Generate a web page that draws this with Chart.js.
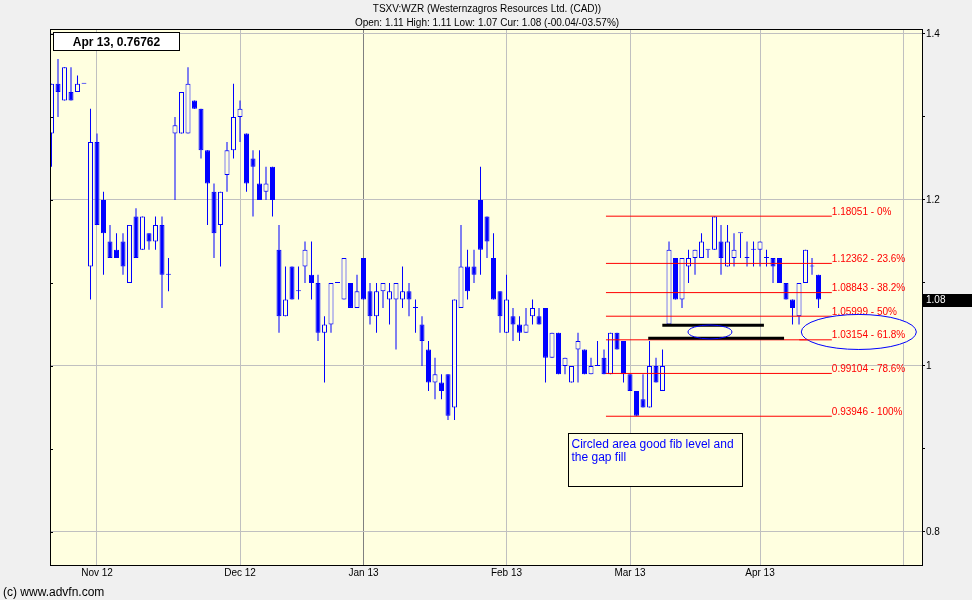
<!DOCTYPE html>
<html>
<head>
<meta charset="utf-8">
<script src="https://cdn.jsdelivr.net/npm/chart.js@4.4.1/dist/chart.umd.min.js"></script>
<style>
html,body{margin:0;padding:0;background:#F0F0F0;}
canvas{display:block;}
</style>
</head>
<body>
<canvas id="c" width="972" height="600"></canvas>
<script>
// ---------- DATA (TSXV:WZR daily candles, 23 Oct 2012 .. 12 Apr 2013) ----------
// x position = trading-day index, 0 = 1 Nov 2012
const firstBarIndex = -7;
const opens = [
  1.28,1.34,1.32,1.33,1.33,1.34,1.12,1.27,1.20,1.15,
  1.14,1.15,1.10,1.18,1.14,1.16,1.15,1.17,1.11,1.28,
  1.28,1.28,1.32,1.31,1.26,1.21,1.17,1.23,1.26,1.30,
  1.28,1.25,1.22,1.21,1.24,1.14,1.06,1.12,1.09,1.12,
  1.11,1.10,1.04,1.05,1.10,1.08,1.10,1.07,1.13,1.09,
  1.06,1.09,1.08,1.08,1.08,1.09,1.07,1.05,1.02,0.98,
  0.98,0.99,0.95,1.07,1.12,1.12,1.20,1.18,1.13,1.09,
  1.04,1.06,1.05,1.04,1.06,1.06,1.07,1.01,1.04,1.00,
  0.98,1.02,1.02,0.99,1.00,1.01,0.99,1.04,1.03,0.99,
  0.97,0.96,0.95,1.00,0.97,1.05,1.13,1.08,1.12,1.13,
  1.13,1.14,1.14,1.15,1.12,1.13,1.16,1.13,1.14,1.14,
  1.13,1.13,1.13,1.10,1.08,1.06,1.10,1.12,1.11
];
const highs = [
  1.34,1.37,1.36,1.36,1.35,1.34,1.31,1.28,1.21,1.17,
  1.16,1.16,1.17,1.19,1.18,1.16,1.18,1.18,1.13,1.30,
  1.33,1.36,1.32,1.31,1.26,1.22,1.21,1.27,1.34,1.32,
  1.28,1.26,1.26,1.24,1.24,1.17,1.12,1.12,1.12,1.15,
  1.15,1.11,1.06,1.10,1.10,1.13,1.10,1.11,1.13,1.10,
  1.10,1.10,1.10,1.10,1.12,1.10,1.08,1.06,1.03,1.01,
  0.99,0.99,1.08,1.17,1.14,1.14,1.24,1.18,1.16,1.09,
  1.11,1.07,1.06,1.07,1.08,1.07,1.07,1.04,1.04,1.01,
  1.00,1.04,1.02,1.01,1.03,1.02,1.04,1.04,1.03,0.99,
  0.97,0.99,1.03,1.01,1.02,1.15,1.13,1.13,1.14,1.14,
  1.16,1.14,1.18,1.17,1.17,1.16,1.16,1.15,1.15,1.15,
  1.14,1.13,1.13,1.10,1.08,1.10,1.14,1.13,1.11
];
const lows = [
  1.24,1.30,1.32,1.32,1.33,1.34,1.08,1.17,1.11,1.13,
  1.13,1.11,1.10,1.13,1.14,1.14,1.14,1.07,1.09,1.20,
  1.28,1.28,1.31,1.25,1.17,1.13,1.12,1.21,1.25,1.27,
  1.21,1.18,1.20,1.20,1.18,1.04,1.06,1.08,1.08,1.10,
  1.08,1.03,0.98,1.04,1.10,1.08,1.07,1.07,1.08,1.05,
  1.04,1.07,1.05,1.02,1.07,1.06,1.04,1.00,0.97,0.96,
  0.96,0.935,0.935,1.07,1.08,1.10,1.11,1.13,1.08,1.04,
  1.04,1.03,1.03,1.04,1.05,1.05,0.98,1.01,0.99,0.99,
  0.98,0.98,0.99,0.99,1.00,0.99,0.99,1.02,0.98,0.97,
  0.94,0.95,0.95,0.98,0.97,1.05,1.08,1.07,1.10,1.11,
  1.13,1.13,1.14,1.11,1.12,1.12,1.13,1.12,1.12,1.12,
  1.12,1.10,1.10,1.08,1.05,1.05,1.10,1.11,1.07
];
const closes = [
  1.34,1.33,1.36,1.32,1.34,1.34,1.27,1.17,1.16,1.13,
  1.13,1.12,1.17,1.13,1.18,1.15,1.17,1.11,1.11,1.29,
  1.33,1.34,1.31,1.26,1.22,1.16,1.21,1.26,1.30,1.31,
  1.22,1.24,1.20,1.22,1.20,1.06,1.08,1.08,1.09,1.14,
  1.10,1.04,1.05,1.10,1.10,1.13,1.07,1.09,1.08,1.06,
  1.09,1.10,1.09,1.10,1.09,1.08,1.07,1.03,0.98,0.99,
  0.97,0.94,1.08,1.12,1.09,1.11,1.14,1.15,1.08,1.06,
  1.08,1.05,1.04,1.05,1.07,1.05,1.01,1.04,0.99,1.01,
  1.00,1.03,0.99,1.00,1.00,0.99,1.04,1.02,0.99,0.97,
  0.94,0.95,1.00,0.98,1.00,1.14,1.08,1.13,1.13,1.14,
  1.15,1.14,1.18,1.13,1.15,1.14,1.16,1.13,1.14,1.15,
  1.13,1.12,1.10,1.08,1.07,1.10,1.14,1.12,1.08
];
// month gridlines (trading-day index of first session of each month)
const monthTickIndex  = [0, 22, 41, 63, 82, 102, 124];
const monthTickLabels = ['Nov 12','Dec 12','Jan 13','Feb 13','Mar 13','Apr 13',''];
const yearBoundaryIndex = 41;
// price axis
const priceTicks      = [0.8, 0.9, 1.0, 1.1, 1.2, 1.3, 1.4];
const priceLabelTicks = [0.8, 1.0, 1.2, 1.4];
// Fibonacci retracement drawing
const fibLevels = [1.18051, 1.12362, 1.08843, 1.05999, 1.03154, 0.99104, 0.93946];
const fibLabels = ['1.18051 - 0%','1.12362 - 23.6%','1.08843 - 38.2%','1.05999 - 50%','1.03154 - 61.8%','0.99104 - 78.6%','0.93946 - 100%'];
const fibRange = [78.3, 113.05];
const fibOnTopIndex = 4;
// gap lines drawn by the author
const gapLevels = [1.049, 1.0333];
const gapRanges = [[86.97, 102.6], [84.8, 105.7]];
// ellipses (centre index, centre price, radius index, radius price)
const ellipseCx = [94.3, 117.2];
const ellipseCy = [1.041, 1.041];
const ellipseRx = [3.38, 8.85];
const ellipseRy = [0.0084, 0.0211];
const ellipseFilled = [false, true];
// note box
const noteLines = ['Circled area good fib level and', 'the gap fill'];
const noteRangeX = [72.5, 99.2];
const noteRangeY = [0.9189, 0.8554];
// texts
const titleLines = ['TSXV:WZR (Westernzagros Resources Ltd. (CAD))',
                    'Open: 1.11 High: 1.11 Low: 1.07 Cur: 1.08 (-00.04/-03.57%)'];
const cursorLabel = 'Apr 13, 0.76762';
const copyright = '(c) www.advfn.com';

// ---------- STYLE ----------
const FONT = '"Liberation Sans", Arial, Helvetica, sans-serif';
const COL = { bg:'#FFFFE0', outer:'#F0F0F0', blue:'#0000FF', red:'#FF0000', grid:'#C0C0C0', yearGrid:'#808080' };
const xMin = -7.23, xMax = 126.92;
const yMin = 0.76024, yMax = 1.40602;

const xIdx = opens.map((_, k) => k + firstBarIndex);
const bodyData = xIdx.map((x, k) => ({ x, y: [opens[k], closes[k]] }));
const wickData = xIdx.map((x, k) => ({ x, y: [lows[k], highs[k]] }));

const datasets = [];
gapLevels.forEach((lv, k) => datasets.push({
  type: 'line', data: [{ x: gapRanges[k][0], y: lv }, { x: gapRanges[k][1], y: lv }],
  borderColor: '#000', borderWidth: 3, pointRadius: 0, order: 0
}));
fibLevels.forEach((lv) => datasets.push({
  type: 'line', data: [{ x: fibRange[0], y: lv }, { x: fibRange[1], y: lv }],
  borderColor: COL.red, borderWidth: 1, pointRadius: 0, order: 1
}));
datasets.push({
  type: 'bar', data: bodyData, order: 2, grouped: false, barThickness: 5, minBarLength: 1,
  borderWidth: 1, borderSkipped: false, borderColor: COL.blue, inflateAmount: 0,
  backgroundColor: (c) => (closes[c.dataIndex] < opens[c.dataIndex] ? COL.blue : COL.bg)
});
datasets.push({
  type: 'bar', data: wickData, order: 3, grouped: false, barThickness: 1,
  borderWidth: 0, backgroundColor: COL.blue, inflateAmount: 0
});

const overlay = {
  id: 'overlay',
  beforeDraw(chart) {
    const { ctx, chartArea: a } = chart;
    ctx.save();
    ctx.fillStyle = COL.outer; ctx.fillRect(0, 0, chart.width, chart.height);
    ctx.fillStyle = COL.bg; ctx.fillRect(a.left, a.top, a.right - a.left, a.bottom - a.top);
    ctx.restore();
  },
  afterDatasetsDraw(chart) {
    const { ctx, chartArea: a } = chart;
    const xs = chart.scales.x, ys = chart.scales.y;
    ctx.save();
    ctx.beginPath(); ctx.rect(a.left, a.top, a.right - a.left, a.bottom - a.top); ctx.clip();
    // fib labels
    const fx = xs.getPixelForValue(fibRange[1]);
    ctx.font = '10px ' + FONT; ctx.fillStyle = COL.red; ctx.textAlign = 'left'; ctx.textBaseline = 'alphabetic';
    fibLevels.forEach((lv, k) => ctx.fillText(fibLabels[k], fx, ys.getPixelForValue(lv) - 1.5));
    // ellipses
    let bigLeft = fx;
    ellipseCx.forEach((cxv, k) => {
      const cx = xs.getPixelForValue(cxv), cy = ys.getPixelForValue(ellipseCy[k]);
      const rx = Math.abs(xs.getPixelForValue(cxv + ellipseRx[k]) - cx);
      const ry = Math.abs(ys.getPixelForValue(ellipseCy[k] + ellipseRy[k]) - cy);
      ctx.beginPath(); ctx.ellipse(cx, cy, rx, ry, 0, 0, Math.PI * 2);
      if (ellipseFilled[k]) { ctx.fillStyle = COL.bg; ctx.fill(); bigLeft = cx - rx; }
      ctx.strokeStyle = COL.blue; ctx.lineWidth = 1; ctx.stroke();
    });
    // 61.8% level stays visible inside the circled area
    const py = ys.getPixelForValue(fibLevels[fibOnTopIndex]);
    ctx.strokeStyle = COL.red; ctx.lineWidth = 1;
    ctx.beginPath(); ctx.moveTo(bigLeft - 2, py); ctx.lineTo(fx, py); ctx.stroke();
    ctx.fillStyle = COL.red; ctx.font = '10px ' + FONT;
    ctx.fillText(fibLabels[fibOnTopIndex], fx, py - 1.5);
    // note box
    const bx0 = Math.round(xs.getPixelForValue(noteRangeX[0])), bx1 = Math.round(xs.getPixelForValue(noteRangeX[1]));
    const by0 = Math.round(ys.getPixelForValue(noteRangeY[0])), by1 = Math.round(ys.getPixelForValue(noteRangeY[1]));
    ctx.fillStyle = COL.bg; ctx.fillRect(bx0, by0, bx1 - bx0, by1 - by0);
    ctx.strokeStyle = '#000'; ctx.lineWidth = 1; ctx.strokeRect(bx0 + 0.5, by0 + 0.5, bx1 - bx0, by1 - by0);
    ctx.fillStyle = COL.blue; ctx.font = '12px ' + FONT;
    noteLines.forEach((t, i) => ctx.fillText(t, bx0 + 3.5, by0 + 15.3 + i * 13));
    ctx.restore();

    ctx.save();
    // frame
    ctx.strokeStyle = '#000'; ctx.lineWidth = 1;
    ctx.strokeRect(a.left + 0.5, a.top + 0.5, a.right - a.left, a.bottom - a.top);
    // small inner ticks on the left edge
    ctx.beginPath();
    priceTicks.forEach((v) => {
      const t = Math.round(ys.getPixelForValue(v)) + 0.5;
      ctx.moveTo(a.left, t); ctx.lineTo(a.left + 3, t);
    });
    ctx.stroke();
    // cursor read-out box
    ctx.fillStyle = '#FFFFFF'; ctx.fillRect(a.left + 3, a.top + 3, 126, 18);
    ctx.strokeRect(a.left + 3.5, a.top + 3.5, 126, 18);
    ctx.fillStyle = '#000'; ctx.font = 'bold 12px ' + FONT; ctx.textAlign = 'center'; ctx.textBaseline = 'alphabetic';
    ctx.fillText(cursorLabel, a.left + 66.5, a.top + 16.5);
    // last price tag
    const last = closes[closes.length - 1];
    const lp = Math.round(ys.getPixelForValue(last));
    ctx.fillStyle = '#000'; ctx.fillRect(a.right + 1, lp - 6, chart.width - a.right - 1, 13);
    ctx.fillStyle = '#FFFFFF'; ctx.font = '10px ' + FONT; ctx.textAlign = 'left'; ctx.textBaseline = 'middle';
    ctx.fillText(last.toFixed(2), a.right + 4, lp + 0.5);
    ctx.restore();
  },
  afterDraw(chart) {
    const { ctx } = chart;
    ctx.save();
    ctx.fillStyle = '#000'; ctx.font = '10px ' + FONT; ctx.textAlign = 'center'; ctx.textBaseline = 'alphabetic';
    ctx.fillText(titleLines[0], 487, 12);
    ctx.fillText(titleLines[1], 487, 26);
    ctx.textAlign = 'left'; ctx.font = '12px ' + FONT;
    ctx.fillText(copyright, 3, 596);
    ctx.restore();
  }
};

new Chart(document.getElementById('c'), {
  type: 'bar',
  data: { datasets },
  plugins: [overlay],
  options: {
    responsive: false, devicePixelRatio: 1, animation: false, events: [],
    layout: { padding: { left: 50, top: 29, right: 0, bottom: 0 } },
    plugins: { legend: { display: false }, tooltip: { enabled: false }, title: { display: false } },
    scales: {
      x: {
        type: 'linear', min: xMin, max: xMax, offset: false,
        afterBuildTicks: (s) => { s.ticks = monthTickIndex.map((v) => ({ value: v })); },
        afterFit: (s) => { s.height = 35; },
        ticks: { autoSkip: false, maxRotation: 0, minRotation: 0, padding: 2, color: '#000',
                 font: { size: 10, family: FONT }, callback: (v, i) => monthTickLabels[i] },
        grid: { offset: false,
                color: (c) => (c.tick && c.tick.value === yearBoundaryIndex ? COL.yearGrid : COL.grid),
                drawTicks: false, lineWidth: 1 },
        border: { display: true, color: '#000', width: 1 }
      },
      y: {
        type: 'linear', position: 'right', min: yMin, max: yMax,
        afterBuildTicks: (s) => { s.ticks = priceTicks.map((v) => ({ value: v })); },
        afterFit: (s) => { s.width = 50; },
        ticks: { autoSkip: false, padding: 1, color: '#000', font: { size: 10, family: FONT },
                 callback: (v, i) => (priceLabelTicks.includes(priceTicks[i]) ? String(priceTicks[i]) : '') },
        grid: { color: (c) => (c.tick && priceLabelTicks.includes(c.tick.value) ? COL.grid : 'rgba(0,0,0,0)'),
                tickColor: '#000', tickLength: 3, drawTicks: true, lineWidth: 1 },
        border: { display: true, color: '#000', width: 1 }
      }
    }
  }
});
</script>
</body>
</html>
